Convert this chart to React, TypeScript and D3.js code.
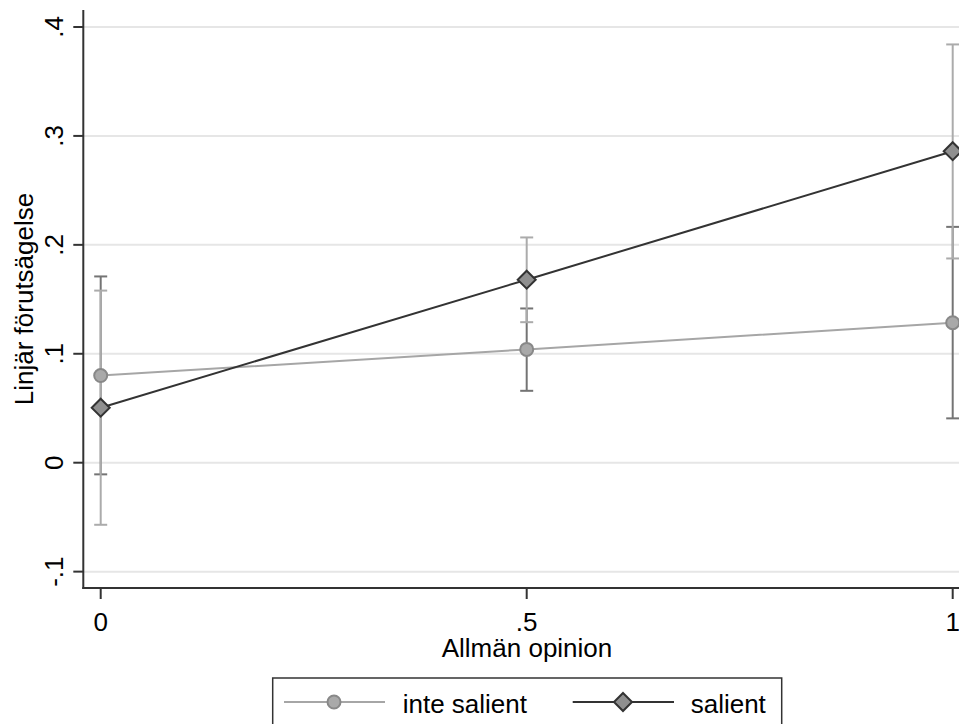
import React from "react";
import * as d3 from "d3";

const xValues = [0, 0.5, 1];
const xTickLabels = ["0", ".5", "1"];
const yTicks = [-0.1, 0, 0.1, 0.2, 0.3, 0.4];
const yTickLabels = ["-.1", "0", ".1", ".2", ".3", ".4"];

const inteSalient = [0.08, 0.104, 0.1285];
const inteSalientLo = [-0.0107, 0.066, 0.0407];
const inteSalientHi = [0.171, 0.1416, 0.2165];

const salient = [0.0505, 0.168, 0.286];
const salientLo = [-0.057, 0.129, 0.1875];
const salientHi = [0.158, 0.2068, 0.384];

const seriesNames = ["inte salient", "salient"];

const W = 959;
const H = 724;
const FONT = "'Liberation Sans', Arial, sans-serif";

export default function App() {
  const x = d3.scaleLinear().domain([0, 1]).range([100.7, 952.7]);
  const y = d3.scaleLinear().domain([0, 0.4]).range([462.7, 27]);
  const axisX = 83.3;
  const axisY = 588;
  const plotTop = 10;

  const line = d3
    .line<number>()
    .x((_, i) => x(xValues[i]))
    .y((d) => y(d));

  const cap = 6.5;
  const ci = (lo: number[], hi: number[], color: string, key: string) => (
    <g key={key} stroke={color} strokeWidth={2}>
      {xValues.map((xv, i) => (
        <g key={i}>
          <line x1={x(xv)} x2={x(xv)} y1={y(lo[i])} y2={y(hi[i])} />
          <line x1={x(xv) - cap} x2={x(xv) + cap} y1={y(lo[i])} y2={y(lo[i])} />
          <line x1={x(xv) - cap} x2={x(xv) + cap} y1={y(hi[i])} y2={y(hi[i])} />
        </g>
      ))}
    </g>
  );

  const diamond = (cx: number, cy: number, r: number) =>
    `M${cx},${cy - r}L${cx + r},${cy}L${cx},${cy + r}L${cx - r},${cy}Z`;

  const legendY = 702;
  return (
    <svg
      width={W}
      height={H}
      style={{ position: "absolute", left: 0, top: 0, background: "#fff" }}
      fontFamily={FONT}
    >
      <rect x={0} y={0} width={W} height={H} fill="#fff" />
      {/* gridlines */}
      {yTicks.map((t) => (
        <line
          key={t}
          x1={axisX}
          x2={W + 10}
          y1={y(t)}
          y2={y(t)}
          stroke="#e6e6e6"
          strokeWidth={2}
        />
      ))}
      {/* CIs */}
      {ci(inteSalientLo, inteSalientHi, "#747474", "ci1")}
      {ci(salientLo, salientHi, "#ababab", "ci2")}
      {/* series lines */}
      <path d={line(inteSalient) || ""} fill="none" stroke="#a6a6a6" strokeWidth={2} />
      <path d={line(salient) || ""} fill="none" stroke="#333" strokeWidth={2} />
      {inteSalient.map((v, i) => (
        <circle
          key={i}
          cx={x(xValues[i])}
          cy={y(v)}
          r={6.5}
          fill="#a9a9a9"
          stroke="#888"
          strokeWidth={2}
        />
      ))}
      {salient.map((v, i) => (
        <path
          key={i}
          d={diamond(x(xValues[i]), y(v), 9)}
          fill="#8f8f8f"
          stroke="#333"
          strokeWidth={2}
        />
      ))}
      {/* axes */}
      <line x1={axisX} x2={axisX} y1={plotTop} y2={axisY + 1} stroke="#333" strokeWidth={2} />
      <line x1={axisX - 1} x2={W + 10} y1={axisY} y2={axisY} stroke="#333" strokeWidth={2} />
      {yTicks.map((t, i) => (
        <g key={t}>
          <line x1={axisX - 10} x2={axisX} y1={y(t)} y2={y(t)} stroke="#333" strokeWidth={2} />
          <text
            transform={`translate(63,${y(t)}) rotate(-90)`}
            textAnchor="middle"
            fontSize={26}
            fill="#000"
          >
            {yTickLabels[i]}
          </text>
        </g>
      ))}
      {xValues.map((v, i) => (
        <g key={v}>
          <line x1={x(v)} x2={x(v)} y1={axisY} y2={axisY + 11} stroke="#333" strokeWidth={2} />
          <text x={x(v)} y={631} textAnchor="middle" fontSize={26} fill="#000">
            {xTickLabels[i]}
          </text>
        </g>
      ))}
      <text x={527} y={656.5} textAnchor="middle" fontSize={26} fill="#000">
        Allmän opinion
      </text>
      <text
        transform={`translate(33,${(plotTop + axisY) / 2}) rotate(-90)`}
        textAnchor="middle"
        fontSize={26}
        fill="#000"
      >
        Linjär förutsägelse
      </text>
      {/* legend */}
      <rect x={272.7} y={678} width={509} height={80} fill="#fff" stroke="#333" strokeWidth={1.5} />
      <line x1={284} x2={385} y1={legendY} y2={legendY} stroke="#a6a6a6" strokeWidth={2} />
      <circle cx={334} cy={legendY} r={6.5} fill="#a9a9a9" stroke="#888" strokeWidth={2} />
      <text x={402.7} y={713.3} fontSize={26} fill="#000">
        {seriesNames[0]}
      </text>
      <line x1={572.7} x2={674} y1={legendY} y2={legendY} stroke="#333" strokeWidth={2} />
      <path d={diamond(623, legendY, 9)} fill="#8f8f8f" stroke="#333" strokeWidth={2} />
      <text x={690.7} y={713.3} fontSize={26} fill="#000">
        {seriesNames[1]}
      </text>
    </svg>
  );
}
